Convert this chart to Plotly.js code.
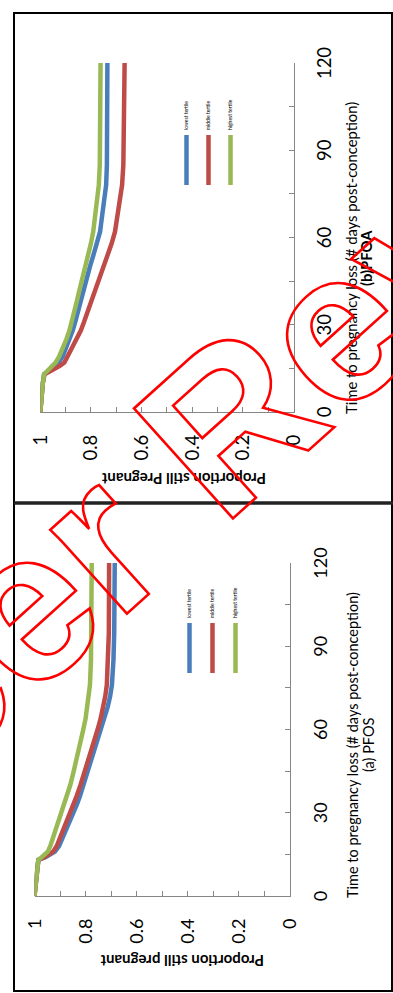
<!DOCTYPE html>
<html><head><meta charset="utf-8">
<script src="https://cdn.plot.ly/plotly-3.0.1.min.js"></script>
<style>
html,body{margin:0;padding:0;background:#fff;overflow:hidden;width:393px;height:993px;}
#wrap{position:absolute;left:0;top:0;width:993px;height:393px;transform-origin:0 0;transform:translate(0px,993px) rotate(-90deg);}
#wrap g.annotation[data-index="6"] text{fill:none !important;stroke:#ff0000;stroke-width:2.6px;stroke-linejoin:miter;}
</style></head><body>
<div id="wrap"></div>
<script>
// ---- data ----
const seriesNames = ['lowest tertile', 'middle tertile', 'highest tertile'];
const seriesColors = ['#4A7EBB', '#BE4B48', '#98B954'];

// (a) PFOS
const pfosDays = [0,5,10,13,14,15,16,18,21,24,27,30,33,36,40,44,48,52,56,60,64,68,72,76,85,95,120];
const pfosLowest  = [1.0,0.995,0.99,0.985,0.957,0.937,0.92,0.904,0.89,0.875,0.858,0.846,0.834,0.822,0.808,0.795,0.781,0.768,0.754,0.74,0.727,0.714,0.704,0.697,0.691,0.688,0.686];
const pfosMiddle  = [1.0,0.995,0.99,0.985,0.962,0.942,0.927,0.913,0.9,0.886,0.871,0.858,0.846,0.835,0.82,0.806,0.792,0.779,0.766,0.753,0.741,0.731,0.723,0.717,0.712,0.709,0.708];
const pfosHighest = [1.0,0.995,0.99,0.985,0.972,0.958,0.948,0.938,0.927,0.915,0.903,0.893,0.883,0.873,0.86,0.849,0.838,0.827,0.818,0.809,0.8,0.793,0.787,0.783,0.779,0.777,0.776];

// (b) PFOA
const pfoaDays = [0,5,10,13,14,15,16,17,19,22,25,28,31,34,38,42,46,50,54,58,62,66,70,74,78,85,100,120];
const pfoaLowest  = [1.0,0.997,0.99,0.985,0.97,0.955,0.94,0.928,0.912,0.898,0.884,0.872,0.862,0.853,0.843,0.83,0.817,0.804,0.79,0.776,0.764,0.758,0.751,0.745,0.74,0.737,0.735,0.735];
const pfoaMiddle  = [1.0,0.997,0.99,0.983,0.965,0.94,0.92,0.905,0.893,0.875,0.856,0.84,0.827,0.815,0.796,0.78,0.765,0.751,0.735,0.718,0.705,0.698,0.692,0.685,0.677,0.672,0.668,0.667];
const pfoaHighest = [1.0,0.997,0.99,0.985,0.975,0.962,0.951,0.94,0.926,0.91,0.897,0.885,0.875,0.866,0.856,0.845,0.833,0.822,0.81,0.8,0.791,0.786,0.781,0.775,0.769,0.765,0.763,0.762];

const xTitle = 'Time to pregnancy loss (# days post-conception)';
const panelA = '(a) PFOS';
const panelB = '(b)PFOA';
const yTitleA = 'Proportion still pregnant';
const yTitleB = 'Proportion still Pregnant';
const watermark = 'Not Peer Reviewed';

// ---- figure ----
const W = 993, H = 393;
const px = v => v / W;
const py = v => (H - v) / H;

function mk(x, y, i, xa, ya, leg) {
  return {
    x: x, y: y, type: 'scatter', mode: 'lines', name: seriesNames[i],
    line: {color: seriesColors[i], width: 4.5, shape: 'linear'},
    xaxis: xa, yaxis: ya, legend: leg, legendgroup: leg + i, hoverinfo: 'skip'
  };
}
const traces = [
  mk(pfosDays, pfosLowest, 0, 'x', 'y', 'legend'),
  mk(pfosDays, pfosMiddle, 1, 'x', 'y', 'legend'),
  mk(pfosDays, pfosHighest, 2, 'x', 'y', 'legend'),
  mk(pfoaDays, pfoaLowest, 0, 'x2', 'y2', 'legend2'),
  mk(pfoaDays, pfoaMiddle, 1, 'x2', 'y2', 'legend2'),
  mk(pfoaDays, pfoaHighest, 2, 'x2', 'y2', 'legend2')
];

const axisGray = '#868686';
function xax(dom, anchor, fs) {
  return {domain: dom, anchor: anchor, range: [0, 120], dtick: 30, tick0: 0,
    ticks: 'inside', ticklen: 5, tickcolor: axisGray, tickwidth: 1,
    minor: {dtick: 15, ticks: 'inside', ticklen: 5, tickcolor: axisGray, tickwidth: 1},
    showline: true, linecolor: axisGray, linewidth: 1, showgrid: false, zeroline: false,
    tickfont: {size: fs, color: '#000'}, ticklabelstandoff: 14, fixedrange: true};
}
function yax(dom, anchor, fs) {
  return {domain: dom, anchor: anchor, range: [0, 1], dtick: 0.2, tick0: 0,
    ticks: 'inside', ticklen: 5, tickcolor: axisGray, tickwidth: 1,
    minor: {dtick: 0.1, ticks: 'inside', ticklen: 5, tickcolor: axisGray, tickwidth: 1},
    showline: true, linecolor: axisGray, linewidth: 1, showgrid: false, zeroline: false,
    tickfont: {size: fs, color: '#000'}, ticklabelstandoff: 18, fixedrange: true};
}

const ann = (text, x, y, size, bold, angle) => ({
  text: text, x: px(x), y: py(y), xref: 'paper', yref: 'paper',
  xanchor: 'center', yanchor: 'middle', showarrow: false, textangle: angle || 0,
  font: {size: size, color: '#000', weight: bold ? 700 : 400}
});

const wm = {
  text: watermark, x: px(537), y: py(190), xref: 'paper', yref: 'paper',
  xanchor: 'center', yanchor: 'middle', showarrow: false, textangle: 48,
  font: {size: 215, color: 'rgba(255,0,0,0)', weight: 700, family: '"Liberation Sans", Arial, sans-serif'}
};

const layout = {
  width: W, height: H, margin: {l: 0, r: 0, t: 0, b: 0},
  paper_bgcolor: '#fff', plot_bgcolor: '#fff',
  font: {family: 'Lato, "Liberation Sans", sans-serif', color: '#000'},
  showlegend: true,
  xaxis: xax([px(97), px(430)], 'y', 18),
  yaxis: yax([py(290), py(34.5)], 'x', 18),
  xaxis2: xax([px(581), px(930)], 'y2', 18.5),
  yaxis2: yax([py(293.5), py(40.3)], 'x2', 18.5),
  legend: {x: px(315), y: py(175), xanchor: 'left', yanchor: 'top', font: {size: 5}, itemwidth: 50,
    tracegroupgap: 4, bgcolor: 'rgba(0,0,0,0)', borderwidth: 0, traceorder: 'grouped'},
  legend2: {x: px(803), y: py(172), xanchor: 'left', yanchor: 'top', font: {size: 5}, itemwidth: 50,
    tracegroupgap: 3, bgcolor: 'rgba(0,0,0,0)', borderwidth: 0, traceorder: 'grouped'},
  annotations: [
    ann(xTitle, 248, 352, 14.5, false),
    ann(panelA, 248, 368, 14.5, false),
    ann(xTitle, 735, 351, 14.8, false),
    ann(panelB, 735, 366, 14.8, true),
    ann(yTitleA, 32, 182, 15, true, -90),
    ann(yTitleB, 514, 184, 15, true, -90),
    wm
  ],
  shapes: [
    {type: 'rect', xref: 'paper', yref: 'paper', x0: px(2), x1: px(490), y0: py(392), y1: py(14), line: {color: '#000', width: 2}},
    {type: 'rect', xref: 'paper', yref: 'paper', x0: px(490), x1: px(980), y0: py(392), y1: py(14), line: {color: '#000', width: 2}},
    {type: 'line', xref: 'paper', yref: 'paper', x0: px(490), x1: px(490), y0: 0, y1: py(14), line: {color: '#222', width: 3.5}}
  ]
};

Plotly.newPlot('wrap', traces, layout, {staticPlot: true, displayModeBar: false});
</script>
</body></html>
